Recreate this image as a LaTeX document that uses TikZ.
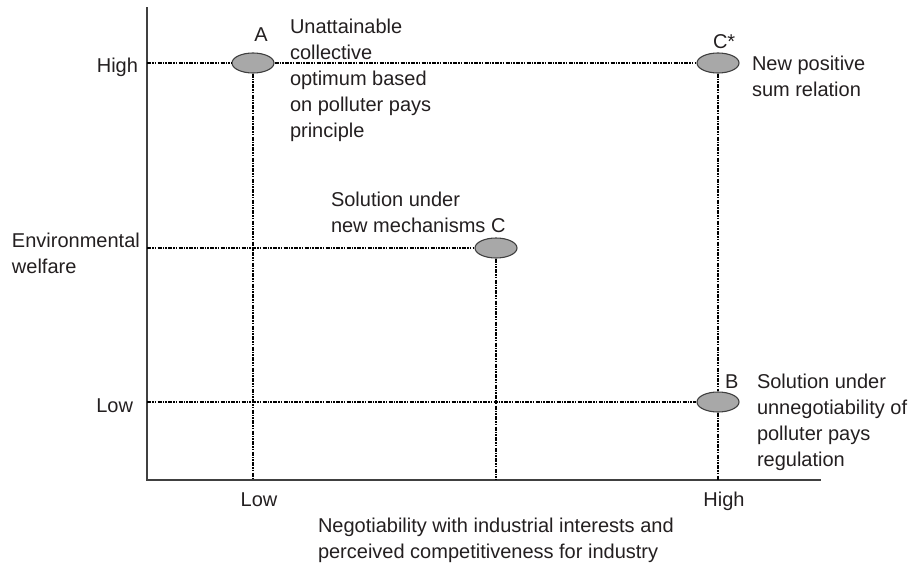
\documentclass[tikz,border=0pt]{standalone}
\usepackage{fontspec}
\setmainfont{Liberation Sans}
\usetikzlibrary{shapes.geometric}
\definecolor{axiscol}{HTML}{404040}
\definecolor{ptfill}{HTML}{A8A8A8}
\definecolor{txtcol}{HTML}{231F20}
\begin{document}
\begin{tikzpicture}[x=1pt,y=-1pt,
  txt/.style={inner sep=0pt,outer sep=0pt,text=txtcol,font=\fontsize{20}{26}\selectfont,align=left},
  pt/.style={ellipse,draw=axiscol,fill=ptfill,line width=1.1pt,minimum width=42pt,minimum height=20pt,inner sep=0pt},
  axisline/.style={draw=axiscol,line width=1.8pt},
  guide/.style={draw=black,line width=1.2pt,dash pattern=on 4pt off 1.3pt on 1.3pt off 1.3pt on 1.3pt off 1.3pt}
]
\useasboundingbox (0,0) rectangle (911,565);
% axes
\coordinate (origin) at (147,480);
\coordinate (ytop) at (147,7);
\coordinate (xend) at (821,480);
\draw[axisline] (ytop) -- (origin) -- (xend);
% points
\node[pt] (A) at (253,63) {};
\node[pt] (Cs) at (718,63) {};
\node[pt] (C) at (496,248) {};
\node[pt] (B) at (718,402) {};
% axis anchor coordinates
\coordinate (yH) at (147,63);
\coordinate (yC) at (147,248);
\coordinate (yL) at (147,402);
\coordinate (xA) at (253,480);
\coordinate (xC) at (496,480);
\coordinate (xB) at (718,480);
% guides
\draw[guide] (yH) -- (A);
\draw[guide] (A) -- (Cs);
\draw[guide] (A) -- (xA);
\draw[guide] (yC) -- (C);
\draw[guide] (C) -- (xC);
\draw[guide] (yL) -- (B);
\draw[guide] (Cs) -- (B);
\draw[guide] (B) -- (xB);
% point labels
\node[txt,anchor=base] (lA) at (261,41) {A};
\node[txt,anchor=base west] (lCs) at (713,48) {C*};
\node[txt,anchor=base west] (lC) at (491,232) {C};
\node[txt,anchor=base west] (lB) at (725,388) {B};
% descriptions (base anchor = last line baseline)
\node[txt,anchor=base west] (dA) at (290,137) {Unattainable\\collective\\optimum based\\on polluter pays\\principle};
\node[txt,anchor=base west] (dCs) at (752,96) {New positive\\sum relation};
\node[txt,anchor=base west] (dC) at (331,232) {Solution under\\new mechanisms};
\node[txt,anchor=base west] (dB) at (757,466) {Solution under\\unnegotiability of\\polluter pays\\regulation};
% y axis labels
\node[txt,anchor=base east] (yHigh) at (138,72) {High};
\node[txt,anchor=base west] (yTitle) at (12,273) {Environmental\\welfare};
\node[txt,anchor=base east] (yLow) at (133,412) {Low};
% x axis labels
\node[txt,anchor=base] (xLow) at (259,506) {Low};
\node[txt,anchor=base] (xHigh) at (724,506) {High};
\node[txt,anchor=base west] (xTitle) at (318,558) {Negotiability with industrial interests and\\perceived competitiveness for industry};
\end{tikzpicture}
\end{document}
